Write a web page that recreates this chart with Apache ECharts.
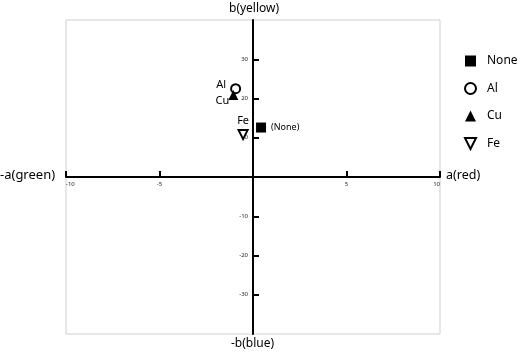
<!DOCTYPE html>
<html><head><meta charset="utf-8">
<script src="https://cdn.jsdelivr.net/npm/echarts@6/dist/echarts.min.js"></script>
<style>html,body{margin:0;padding:0;background:#fff}#c{width:525px;height:355px}</style>
</head><body><div id="c"></div>
<script>
const seriesNames = ['None', 'Al', 'Cu', 'Fe'];
const aValues = [0.43, -0.93, -1.05, -0.53];
const bValues = [12.6, 22.5, 20.9, 10.8];
const pointLabels = ['(None)', 'Al', 'Cu', 'Fe'];
const xTicks = [-10, -5, 5, 10];
const yTicks = [-30, -20, -10, 10, 20, 30];

const FONT = '"Noto Sans", sans-serif';
const symbols = ['rect', 'circle', 'triangle', 'path://M0,0 L10,0 L5,10 Z'];
const sizes = [10, 9, 10, 9];
const hollow = [false, true, false, true];
const labelCfg = [
  {position: 'right', distance: 5, fontSize: 9},
  {position: 'left', offset: [2, -4], distance: 6, fontSize: 11},
  {position: 'left', offset: [7, 6], distance: 6, fontSize: 11},
  {position: 'top', distance: 3, fontSize: 11}
];

const GL = 66, GR = 85, GT = 20, GB = 21, W = 525, H = 355;
const gw = W - GL - GR, gh = H - GT - GB;

const chart = echarts.init(document.getElementById('c'));
chart.setOption({
  animation: false,
  textStyle: {fontFamily: FONT},
  grid: {left: GL, right: GR, top: GT, bottom: GB, show: true, borderColor: '#cfcfcf', borderWidth: 1, backgroundColor: 'transparent'},
  xAxis: {
    type: 'value', min: -10, max: 10, interval: 5, position: 'bottom', offset: -gh / 2,
    axisLine: {onZero: false, lineStyle: {color: '#000', width: 2}},
    axisTick: {inside: true, length: 6, lineStyle: {color: '#000', width: 2}, customValues: xTicks},
    axisLabel: {fontSize: 6, color: '#222', margin: 4, customValues: xTicks, alignMinLabel: 'left', alignMaxLabel: 'right'},
    splitLine: {show: false}
  },
  yAxis: {
    type: 'value', min: -40, max: 40, interval: 10, position: 'left', offset: -gw / 2,
    axisLine: {onZero: false, lineStyle: {color: '#000', width: 2}},
    axisTick: {inside: true, length: 6, lineStyle: {color: '#000', width: 2}, customValues: yTicks},
    axisLabel: {fontSize: 6, color: '#222', margin: 5, customValues: yTicks},
    splitLine: {show: false}
  },
  legend: {
    orient: 'vertical', left: 459, top: 50, itemGap: 15, itemWidth: 11, itemHeight: 11,
    textStyle: {fontSize: 12, color: '#000', fontFamily: FONT, padding: [0, 0, 0, 6]},
    data: seriesNames.map((n, i) => ({name: n, icon: symbols[i]}))
  },
  graphic: [
    {type: 'text', left: 229, top: 3, style: {text: 'b(yellow)', font: '12px ' + FONT, fill: '#000'}},
    {type: 'text', left: 231, top: 338, style: {text: '-b(blue)', font: '12px ' + FONT, fill: '#000'}},
    {type: 'text', left: 0, top: 169, style: {text: '-a(green)', font: '13px ' + FONT, fill: '#000'}},
    {type: 'text', left: 446, top: 169, style: {text: 'a(red)', font: '12.5px ' + FONT, fill: '#000'}}
  ],
  series: seriesNames.map((n, i) => ({
    name: n, type: 'scatter',
    symbol: symbols[i], symbolSize: sizes[i],
    itemStyle: hollow[i] ? {color: '#fff', borderColor: '#000', borderWidth: 2, opacity: 1} : {color: '#000', opacity: 1},
    label: Object.assign({show: true, formatter: pointLabels[i], color: '#000', fontFamily: FONT}, labelCfg[i]),
    data: [[aValues[i], bValues[i]]],
    z: 5
  }))
});
</script></body></html>
